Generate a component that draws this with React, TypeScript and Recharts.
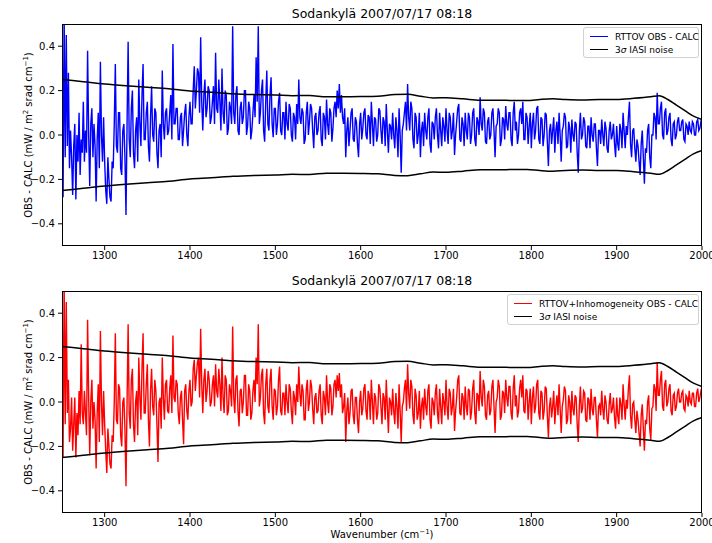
import { LineChart, Line, XAxis, YAxis } from 'recharts'

// residuals sampled every 1.25 cm-1 from 1250 to 2000 (20 values = 25 cm-1 per row)
const rttovObsCalc = [
  0.6, -0.28, 0.55, -0.1, 0.45, -0.05, 0.28, -0.15, 0.02, -0.1, -0.27, -0.05, 0.05, -0.29, 0.0, -0.12, 0.1, -0.18, -0.02, -0.08,
  0.15, -0.12, 0.02, -0.08, 0.38, 0.0, -0.23, 0.05, 0.12, -0.1, 0.05, -0.05, -0.3, -0.02, 0.1, -0.15, 0.33, 0.0, -0.12, 0.08,
  -0.12, -0.25, -0.31, -0.1, -0.2, -0.28, -0.3, -0.12, -0.15, 0.05, 0.32, -0.05, -0.08, 0.1, 0.1, -0.15, -0.18, 0.02, 0.05, -0.1,
  -0.36, 0.05, 0.42, -0.02, -0.1, 0.12, 0.2, -0.08, -0.15, 0.02, 0.08, -0.12, 0.25, 0.05, -0.05, 0.18, 0.32, -0.02, -0.02, 0.1,
  0.15, -0.05, -0.12, 0.08, 0.22, 0.0, -0.03, 0.12, 0.1, -0.08, -0.15, 0.02, 0.05, -0.1, 0.29, 0.05, -0.02, 0.1, 0.12, 0.0,
  0.02, 0.1, 0.18, -0.02, 0.41, 0.05, 0.05, 0.12, 0.12, -0.02, -0.02, 0.08, 0.1, -0.05, 0.02, 0.1, 0.14, 0.0, -0.05, 0.08,
  0.15, 0.05, 0.05, 0.2, 0.31, 0.12, 0.2, 0.3, 0.28, 0.1, 0.44, 0.15, 0.02, 0.18, 0.25, 0.08, 0.12, 0.22, 0.2, 0.05,
  0.08, 0.15, 0.22, 0.05, 0.37, 0.12, 0.1, 0.25, 0.15, 0.02, 0.3, 0.1, 0.05, 0.2, 0.18, 0.0, 0.03, 0.15, 0.12, 0.05,
  0.49, 0.1, 0.05, 0.18, 0.22, 0.02, 0.0, 0.12, 0.15, 0.05, 0.08, 0.2, 0.2, 0.0, 0.04, 0.15, 0.12, -0.02, 0.02, 0.1,
  0.18, 0.08, 0.35, 0.15, 0.49, 0.05, 0.1, 0.2, 0.25, 0.02, -0.03, 0.15, 0.29, 0.05, 0.02, 0.18, 0.26, 0.05, -0.01, 0.12,
  0.12, 0.0, 0.05, 0.15, 0.19, 0.02, 0.0, 0.1, 0.1, -0.02, 0.15, 0.05, 0.02, 0.14, 0.12, 0.0, -0.03, 0.1, 0.08, -0.02,
  0.14, 0.05, 0.25, 0.08, 0.05, 0.12, 0.1, -0.04, -0.02, 0.1, 0.15, 0.0, 0.06, 0.14, 0.12, 0.02, -0.06, 0.08, 0.1, 0.0,
  0.02, 0.1, 0.13, -0.02, -0.05, 0.1, 0.08, -0.02, 0.16, 0.05, 0.0, 0.12, 0.1, -0.03, 0.03, 0.12, 0.15, 0.08, 0.2, 0.12,
  0.23, 0.1, 0.18, 0.08, 0.05, 0.12, -0.1, 0.02, 0.08, -0.05, 0.02, 0.1, 0.12, -0.02, -0.03, 0.08, 0.06, -0.04, -0.1, 0.05,
  0.1, -0.02, 0.03, 0.1, 0.12, 0.0, -0.02, 0.09, 0.08, -0.04, 0.15, 0.05, -0.05, 0.08, 0.07, -0.03, 0.0, 0.12, 0.11, 0.02,
  -0.04, 0.08, 0.06, -0.05, 0.14, 0.02, -0.08, 0.05, 0.04, -0.02, 0.1, 0.0, -0.06, 0.08, 0.02, -0.1, 0.12, 0.0, -0.17, 0.02,
  0.05, 0.1, 0.15, 0.02, 0.23, 0.08, 0.02, 0.15, 0.12, -0.02, -0.06, 0.1, 0.08, -0.04, 0.0, 0.1, -0.1, 0.02, 0.06, -0.05,
  0.1, 0.02, -0.02, 0.08, 0.12, -0.04, -0.08, 0.06, 0.05, -0.02, 0.08, 0.12, 0.0, -0.06, 0.1, 0.02, -0.05, 0.08, 0.04, -0.03,
  0.12, 0.02, -0.04, 0.1, 0.08, -0.02, 0.02, 0.1, -0.09, 0.0, 0.06, 0.12, 0.14, -0.02, -0.03, 0.08, 0.05, -0.05, 0.1, 0.02,
  -0.02, 0.1, 0.08, -0.04, 0.0, 0.1, 0.12, -0.02, -0.05, 0.08, 0.06, 0.0, 0.17, 0.05, 0.02, 0.12, 0.1, -0.03, -0.04, 0.06,
  0.08, -0.02, 0.0, 0.1, 0.12, 0.02, -0.1, 0.04, 0.05, 0.12, 0.1, -0.05, -0.02, 0.08, 0.07, -0.02, 0.13, 0.05, 0.02, 0.1,
  0.1, -0.02, -0.05, 0.1, 0.15, 0.02, 0.06, -0.04, 0.0, 0.1, 0.12, 0.05, 0.15, -0.02, -0.02, 0.1, 0.08, -0.04, 0.04, 0.1,
  -0.06, 0.05, 0.1, -0.02, 0.02, 0.12, 0.13, -0.02, -0.04, 0.08, 0.07, -0.05, 0.0, 0.1, 0.09, -0.03, -0.14, 0.02, 0.05, -0.04,
  0.02, 0.08, -0.08, 0.02, 0.06, -0.04, 0.1, 0.0, -0.12, 0.02, 0.04, 0.1, 0.08, -0.06, -0.05, 0.06, 0.03, -0.08, 0.07, 0.0,
  -0.03, 0.06, 0.05, -0.08, -0.17, 0.02, 0.1, -0.02, 0.0, 0.08, 0.06, -0.05, -0.06, 0.04, 0.04, -0.06, 0.08, 0.0, -0.03, 0.05,
  0.05, -0.06, -0.14, 0.02, 0.02, -0.04, 0.07, 0.0, -0.05, 0.06, 0.03, -0.06, -0.08, 0.02, 0.06, -0.02, 0.0, 0.05, -0.04, -0.1,
  0.04, -0.04, -0.07, 0.05, 0.02, -0.06, 0.1, 0.02, -0.06, 0.04, 0.0, 0.08, 0.15, -0.04, -0.1, 0.02, 0.03, -0.06, -0.12, -0.02,
  -0.05, -0.12, -0.18, -0.04, 0.02, -0.1, -0.22, -0.06, -0.08, 0.02, 0.05, -0.1, -0.15, 0.0, 0.0, 0.1, 0.08, -0.02, 0.19, 0.05,
  0.05, 0.12, 0.15, 0.0, -0.02, 0.1, 0.12, 0.0, 0.02, 0.08, 0.1, -0.02, -0.05, 0.05, 0.06, -0.02, 0.0, 0.06, 0.08, 0.02,
  0.02, 0.06, 0.07, -0.02, -0.03, 0.05, 0.04, 0.0, 0.06, 0.02, 0.01, 0.06, 0.05, 0.0, 0.0, 0.06, 0.07, 0.02, 0.03, 0.06,
  0.05,
]

const inhomObsCalc = [
  0.6, -0.25, 0.55, -0.1, 0.45, -0.05, 0.1, -0.18, -0.12, 0.02, -0.22, -0.1, 0.02, -0.25, -0.05, -0.15, 0.05, -0.1, 0.26, -0.05,
  -0.1, 0.05, -0.05, -0.15, 0.37, 0.02, -0.24, 0.0, 0.1, -0.12, 0.0, -0.08, -0.3, -0.05, 0.08, -0.18, 0.32, 0.0, -0.15, 0.05,
  -0.1, -0.22, -0.32, -0.12, -0.2, -0.28, -0.3, -0.15, -0.18, 0.0, 0.31, -0.08, -0.1, 0.08, 0.06, -0.15, -0.2, 0.0, 0.02, -0.12,
  -0.38, 0.0, 0.35, -0.05, -0.12, 0.1, 0.15, -0.1, -0.18, 0.0, 0.05, -0.15, 0.2, 0.02, -0.08, 0.15, 0.31, -0.05, -0.05, 0.08,
  0.17, -0.08, -0.2, 0.05, 0.15, -0.02, -0.06, 0.1, 0.05, -0.1, -0.27, 0.0, 0.02, -0.12, 0.2, 0.02, -0.08, 0.08, 0.1, -0.04,
  -0.05, 0.06, 0.12, -0.05, 0.3, 0.02, 0.0, 0.1, 0.08, -0.05, -0.1, 0.02, 0.05, -0.08, -0.19, 0.05, 0.08, -0.04, -0.08, 0.05,
  0.1, -0.02, 0.0, 0.15, 0.19, 0.05, 0.12, 0.18, 0.2, 0.02, 0.33, 0.08, -0.05, 0.1, 0.15, 0.0, 0.05, 0.14, 0.1, -0.02,
  0.0, 0.08, 0.12, -0.02, 0.17, 0.05, 0.02, 0.15, 0.08, -0.04, 0.2, 0.02, -0.05, 0.12, 0.1, -0.06, -0.04, 0.08, 0.05, -0.02,
  0.34, 0.02, -0.05, 0.1, 0.12, -0.04, -0.11, 0.05, 0.06, -0.05, 0.0, 0.12, 0.12, -0.06, -0.06, 0.08, 0.05, -0.08, -0.05, 0.05,
  0.1, 0.0, 0.2, 0.08, 0.35, -0.02, 0.02, 0.12, 0.15, -0.05, -0.1, 0.08, 0.15, -0.02, -0.05, 0.1, 0.15, -0.02, -0.08, 0.06,
  0.05, -0.06, -0.02, 0.1, 0.16, -0.04, -0.06, 0.04, 0.04, -0.06, 0.08, 0.0, -0.05, 0.08, 0.06, -0.04, -0.1, 0.05, 0.02, -0.06,
  0.08, 0.0, 0.16, 0.04, -0.02, 0.08, 0.05, -0.08, -0.08, 0.06, 0.1, -0.04, 0.0, 0.1, 0.07, -0.03, -0.1, 0.02, 0.04, -0.05,
  -0.04, 0.05, 0.08, -0.06, -0.1, 0.05, 0.02, -0.06, 0.12, 0.0, -0.05, 0.08, 0.06, -0.06, -0.02, 0.08, 0.1, 0.02, 0.12, 0.05,
  0.13, 0.02, 0.08, -0.05, -0.02, 0.04, -0.18, -0.04, 0.02, -0.1, -0.05, 0.05, 0.06, -0.06, -0.1, 0.02, 0.02, -0.08, -0.14, 0.0,
  0.05, -0.06, -0.03, 0.06, 0.08, -0.04, -0.08, 0.05, 0.03, -0.08, 0.1, 0.0, -0.1, 0.04, 0.02, -0.08, -0.05, 0.08, 0.06, -0.02,
  -0.1, 0.04, 0.02, -0.08, 0.1, -0.02, -0.14, 0.02, 0.0, -0.06, 0.06, -0.04, -0.1, 0.04, -0.02, -0.12, 0.08, -0.04, -0.18, -0.02,
  0.0, 0.06, 0.1, -0.04, 0.17, 0.04, -0.03, 0.1, 0.07, -0.06, -0.1, 0.06, 0.03, -0.08, -0.05, 0.05, -0.12, -0.02, 0.02, -0.08,
  0.06, -0.02, -0.06, 0.05, 0.08, -0.08, -0.12, 0.02, 0.0, -0.06, 0.04, 0.08, -0.05, -0.1, 0.06, -0.02, -0.1, 0.04, 0.0, -0.06,
  0.1, -0.02, -0.08, 0.06, 0.04, -0.06, -0.02, 0.06, -0.13, -0.04, 0.02, 0.1, 0.12, -0.05, -0.06, 0.04, 0.02, -0.08, 0.07, -0.02,
  -0.06, 0.06, 0.05, -0.08, -0.04, 0.06, 0.1, -0.05, -0.1, 0.04, 0.03, -0.04, 0.14, 0.02, -0.02, 0.1, 0.07, -0.06, -0.08, 0.03,
  0.05, -0.06, -0.04, 0.07, 0.1, -0.02, -0.14, 0.0, 0.02, 0.1, 0.07, -0.08, -0.06, 0.05, 0.04, -0.05, 0.1, 0.02, -0.02, 0.07,
  0.07, -0.05, -0.08, 0.06, 0.12, -0.02, 0.03, -0.07, -0.04, 0.06, 0.1, 0.02, 0.12, -0.04, -0.05, 0.06, 0.05, -0.08, 0.0, 0.06,
  -0.1, 0.02, 0.07, -0.05, -0.02, 0.08, 0.1, -0.05, -0.08, 0.05, 0.04, -0.08, -0.04, 0.07, 0.06, -0.06, -0.16, -0.02, 0.02, -0.07,
  -0.02, 0.05, -0.1, -0.02, 0.03, -0.06, 0.08, -0.03, -0.14, -0.02, 0.01, 0.07, 0.05, -0.1, -0.08, 0.03, 0.0, -0.1, 0.05, -0.03,
  -0.06, 0.03, 0.02, -0.1, -0.18, -0.02, 0.07, -0.05, -0.03, 0.05, 0.04, -0.08, -0.09, 0.02, 0.01, -0.08, 0.06, -0.03, -0.06, 0.02,
  0.02, -0.08, -0.16, -0.02, -0.01, -0.06, 0.05, -0.03, -0.08, 0.03, 0.0, -0.08, -0.1, -0.01, 0.04, -0.05, -0.03, 0.02, -0.07, -0.12,
  0.02, -0.06, -0.1, 0.02, -0.01, -0.08, 0.08, -0.01, -0.08, 0.01, -0.03, 0.06, 0.12, -0.06, -0.12, -0.01, 0.0, -0.08, -0.14, -0.04,
  -0.08, -0.14, -0.2, -0.06, -0.01, -0.12, -0.22, -0.08, -0.1, 0.0, 0.03, -0.12, -0.17, -0.03, -0.02, 0.08, 0.06, -0.04, 0.18, 0.03,
  0.03, 0.1, 0.14, -0.02, -0.04, 0.08, 0.1, -0.02, 0.0, 0.06, 0.08, -0.04, -0.06, 0.03, 0.04, -0.04, -0.02, 0.04, 0.06, 0.0,
  0.0, 0.04, 0.05, -0.03, -0.04, 0.03, 0.02, -0.02, 0.05, 0.0, -0.01, 0.04, 0.04, -0.02, -0.02, 0.04, 0.06, 0.0, 0.02, 0.05,
  0.04,
]

// 3 sigma IASI noise (the envelope is drawn at +/- this)
const noiseWn = [
  1250, 1275, 1300, 1325, 1350, 1375, 1400, 1425, 1450, 1475,
  1500, 1520, 1540, 1560, 1580, 1600, 1620, 1640, 1655, 1670,
  1685, 1700, 1720, 1740, 1760, 1780, 1795, 1810, 1825, 1840,
  1860, 1880, 1900, 1920, 1940, 1950, 1960, 1970, 1980, 1990, 2000,
]
const noise3Sigma = [
  0.25, 0.24, 0.23, 0.222, 0.215, 0.208, 0.198, 0.193, 0.186, 0.182,
  0.18, 0.177, 0.178, 0.172, 0.172, 0.173, 0.175, 0.182, 0.183, 0.175,
  0.167, 0.168, 0.163, 0.157, 0.157, 0.155, 0.155, 0.16, 0.163, 0.16,
  0.158, 0.16, 0.16, 0.165, 0.172, 0.177, 0.16, 0.135, 0.11, 0.085, 0.07,
]

const xTicks = [1300, 1400, 1500, 1600, 1700, 1800, 1900, 2000]
const yTicks = [-0.4, -0.2, 0, 0.2, 0.4]
const TITLE = 'Sodankylä 2007/07/17 08:18'

const FONT = '"DejaVu Sans", sans-serif'
const fmtY = (v: number) => v.toFixed(1).replace('-', '\u2212')

const upperNoise = noiseWn.map((wn, i) => ({ wn, v: noise3Sigma[i] }))
const lowerNoise = noiseWn.map((wn, i) => ({ wn, v: -noise3Sigma[i] }))

function Panel({ values, color, label, top, height, plotTop, axisH, legendLeft }: {
  values: number[]; color: string; label: string; top: number; height: number
  plotTop: number; axisH: number; legendLeft: number
}) {
  const data = values.map((v, i) => ({ wn: 1250 + i * 1.25, v }))
  const plotH = height - plotTop - axisH
  return (
    <div style={{ position: 'absolute', left: 0, top, width: 712, height }}>
      <LineChart width={712} height={height} margin={{ top: plotTop, right: 10, bottom: 0, left: 22 }}>
        <XAxis
          dataKey="wn" type="number" domain={[1250, 2000]} ticks={xTicks}
          allowDataOverflow axisLine={false} height={axisH}
          tickSize={4} tickMargin={2} tickLine={{ stroke: '#000' }}
          tick={{ fill: '#000', fontSize: 10, fontFamily: FONT }}
        />
        <YAxis
          type="number" domain={[-0.5, 0.5]} ticks={yTicks} allowDataOverflow
          axisLine={false} width={40} tickSize={4} tickMargin={3}
          tickLine={{ stroke: '#000' }} tickFormatter={fmtY}
          tick={{ fill: '#000', fontSize: 10, fontFamily: FONT }}
        />
        <Line data={data} dataKey="v" stroke={color} strokeWidth={1.4} dot={false} isAnimationActive={false} />
        <Line data={upperNoise} dataKey="v" type="monotone" stroke="#000" strokeWidth={1.5} dot={false} isAnimationActive={false} />
        <Line data={lowerNoise} dataKey="v" type="monotone" stroke="#000" strokeWidth={1.5} dot={false} isAnimationActive={false} />
      </LineChart>
      <div style={{ position: 'absolute', left: 62, top: plotTop, width: 640, height: plotH, border: '1px solid #000', boxSizing: 'border-box', pointerEvents: 'none' }} />
      <div style={{ position: 'absolute', left: 0, top: plotTop - 18, width: 764, textAlign: 'center', fontFamily: FONT, fontSize: 12.5 }}>{TITLE}</div>
      <div style={{ position: 'absolute', left: 28, top: plotTop + plotH / 2, transform: 'translate(-50%, -50%) rotate(-90deg)', whiteSpace: 'nowrap', fontFamily: FONT, fontSize: 10 }}>
        OBS - CALC (mW / m<sup style={{ fontSize: 7 }}>2</sup> srad cm<sup style={{ fontSize: 7 }}>−1</sup>)
      </div>
      <div style={{
        position: 'absolute', left: legendLeft, top: plotTop + 3, width: 699 - legendLeft, height: 31,
        border: '1px solid #d0d0d0', borderRadius: 3, boxSizing: 'border-box', background: 'rgba(255,255,255,0.85)',
        fontFamily: FONT, fontSize: 9, padding: '2px 0 0 6px', whiteSpace: 'nowrap',
      }}>
        <div style={{ display: 'flex', alignItems: 'center', height: 13 }}>
          <span style={{ display: 'inline-block', flex: 'none', width: 18, height: 1.5, background: color, marginRight: 7 }} />{label}
        </div>
        <div style={{ display: 'flex', alignItems: 'center', height: 13 }}>
          <span style={{ display: 'inline-block', flex: 'none', width: 18, height: 1.5, background: '#000', marginRight: 7 }} />3<i>σ</i>&nbsp;IASI noise
        </div>
      </div>
    </div>
  )
}

export default function App() {
  return (
    <div style={{ position: 'absolute', left: 0, top: 0, width: 712, height: 543, background: '#fff' }}>
      <Panel values={rttovObsCalc} color="#0000ff" label="RTTOV OBS - CALC" top={0} height={270} plotTop={24} axisH={24} legendLeft={583} />
      <Panel values={inhomObsCalc} color="#ff0000" label="RTTOV+Inhomogeneity OBS - CALC" top={270} height={273} plotTop={21} axisH={30} legendLeft={507} />
      <div style={{ position: 'absolute', left: 0, top: 528, width: 764, textAlign: 'center', fontFamily: FONT, fontSize: 10 }}>
        Wavenumber (cm<sup style={{ fontSize: 7 }}>−1</sup>)
      </div>
    </div>
  )
}
